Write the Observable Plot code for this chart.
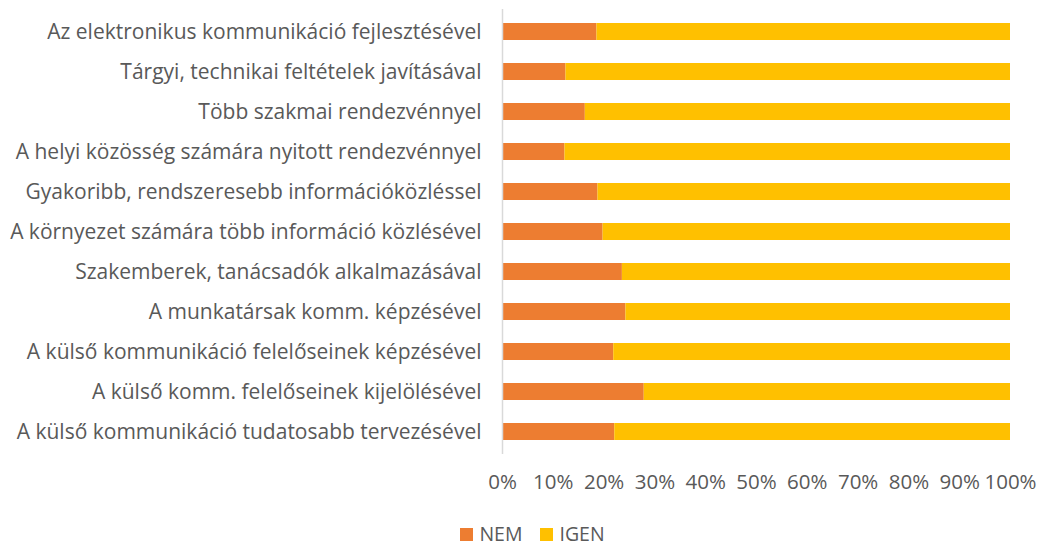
<!DOCTYPE html>
<html>
<head>
<meta charset="utf-8">
<script src="https://cdn.jsdelivr.net/npm/d3@7"></script>
<script src="https://cdn.jsdelivr.net/npm/@observablehq/plot@0.6"></script>
<style>
  html, body { margin: 0; padding: 0; background: #fff; overflow: hidden; }
  #chart { width: 1043px; }
  #chart svg { display: block; }
  .legend { display: flex; justify-content: center; align-items: center; font-family: "Open Sans", sans-serif; font-size: 19.5px; line-height: 20px; color: #595959; height: 20px; margin-top: 19px; padding-left: 22px; }
  .legend .item { display: flex; align-items: center; margin: 0 9px; }
  .legend .sw { width: 13px; height: 13px; margin-right: 6px; display: inline-block; }
</style>
</head>
<body>
<div id="chart"></div>
<script>
const categories = [
  "Az elektronikus kommunikáció fejlesztésével",
  "Tárgyi, technikai feltételek javításával",
  "Több szakmai rendezvénnyel",
  "A helyi közösség számára nyitott rendezvénnyel",
  "Gyakoribb, rendszeresebb információközléssel",
  "A környezet számára több információ közlésével",
  "Szakemberek, tanácsadók alkalmazásával",
  "A munkatársak komm. képzésével",
  "A külső kommunikáció felelőseinek képzésével",
  "A külső komm. felelőseinek kijelölésével",
  "A külső kommunikáció tudatosabb tervezésével"
];
const nem  = [18.6, 12.5, 16.3, 12.3, 18.8, 19.8, 23.6, 24.3, 21.9, 27.9, 22.1];
const igen = [81.4, 87.5, 83.7, 87.7, 81.2, 80.2, 76.4, 75.7, 78.1, 72.1, 77.9];
const seriesNames = ["NEM", "IGEN"];
const seriesColors = ["#ED7D31", "#FFC000"];
const xTicks = [0, 10, 20, 30, 40, 50, 60, 70, 80, 90, 100];

const data = [];
categories.forEach((c, i) => {
  data.push({category: c, series: "NEM", value: nem[i]});
  data.push({category: c, series: "IGEN", value: igen[i]});
});

const chart = Plot.plot({
  width: 1043,
  height: 505,
  marginLeft: 502,
  marginRight: 33,
  marginTop: 9,
  marginBottom: 51,
  style: { fontFamily: "Open Sans, sans-serif", fontSize: "20.5px", color: "#595959", background: "#fff" },
  x: { domain: [0, 100], ticks: xTicks, tickFormat: d => d + "%", tickSize: 0, tickPadding: 20, label: null },
  y: { domain: categories, paddingInner: 0.58, paddingOuter: 0.29, tickSize: 0, tickPadding: 21, label: null },
  color: { domain: seriesNames, range: seriesColors },
  marks: [
    Plot.barX(data, Plot.stackX({ y: "category", x: "value", fill: "series", order: seriesNames })),
    Plot.ruleX([0], { stroke: "#d9d9d9", strokeWidth: 1.5 })
  ]
});
chart.querySelectorAll("text").forEach(t => { t.setAttribute("fill", "#595959"); t.style.fontSize = "20.5px"; });
chart.querySelectorAll("[aria-label='y-axis tick label'] text").forEach(t => { t.style.fontSize = "21px"; });
document.getElementById("chart").appendChild(chart);

const legend = document.createElement("div");
legend.className = "legend";
seriesNames.forEach((s, i) => {
  const it = document.createElement("div");
  it.className = "item";
  it.innerHTML = `<span class="sw" style="background:${seriesColors[i]}"></span><span>${s}</span>`;
  legend.appendChild(it);
});
document.getElementById("chart").appendChild(legend);
</script>
</body>
</html>
